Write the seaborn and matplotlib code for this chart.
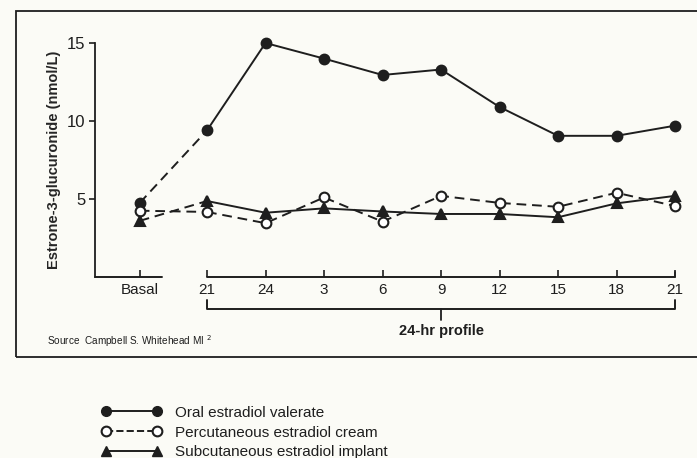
import matplotlib
matplotlib.use("Agg")
import matplotlib.pyplot as plt
import numpy as np
import pandas as pd
import seaborn as sns
from matplotlib.lines import Line2D
from matplotlib.patches import Rectangle

# data
tick_labels = ["Basal", "21", "24", "3", "6", "9", "12", "15", "18", "21"]
x_pos = [-1.15, 0, 1, 2, 3, 4, 5, 6, 7, 8]

oral = [4.75, 9.4, 15.0, 14.0, 12.95, 13.3, 10.9, 9.05, 9.05, 9.7]
cream = [4.25, 4.17, 3.45, 5.1, 3.55, 5.2, 4.75, 4.5, 5.4, 4.55]
implant = [3.6, 4.87, 4.12, 4.4, 4.2, 4.04, 4.04, 3.83, 4.72, 5.2]

series_names = ["Oral estradiol valerate",
                "Percutaneous estradiol cream",
                "Subcutaneous estradiol implant"]

sns.set_style("white")
plt.rcParams['font.family'] = ['Liberation Sans', 'DejaVu Sans']

INK = "#1e1e1e"
BG = "#fbfbf6"

fig = plt.figure(figsize=(6.97, 4.58), dpi=100, facecolor=BG)
ax = fig.add_axes([95 / 697, 1 - 277 / 458, 580 / 697, 234 / 458])
ax.set_facecolor(BG)

styles = {
    series_names[0]: dict(marker="o", mfc=INK, ls="-"),
    series_names[1]: dict(marker="o", mfc="white", ls="--"),
    series_names[2]: dict(marker="^", mfc=INK, ls="-"),
}

for name, vals in zip(series_names, [oral, cream, implant]):
    st = styles[name]
    # basal -> first profile point, always dashed
    ax.plot(x_pos[:2], vals[:2], color=INK, lw=1.4, ls="--", dashes=(5, 3),
            clip_on=False, zorder=2)
    df = pd.DataFrame({"x": x_pos[1:], "y": vals[1:]})
    sns.lineplot(data=df, x="x", y="y", ax=ax, color=INK, lw=1.4,
                 linestyle=st["ls"], legend=False, zorder=2)
    if st["ls"] == "--":
        ax.lines[-1].set_dashes((5, 3))
    ax.plot(x_pos, vals, ls="none", marker=st["marker"], ms=7,
            mfc=st["mfc"], mec=INK, mew=1.5, clip_on=False, zorder=3)

ax.set_xlim(-1.915, 8)
ax.set_ylim(0, 15)
ax.set_yticks([5, 10, 15])
ax.set_xticks(x_pos)
ax.set_xticklabels(tick_labels)
ax.set_xlabel("")
ax.set_ylabel("Estrone-3-glucuronide (nmol/L)", fontsize=10.5,
              fontweight="bold", labelpad=4)

for s in ["top", "right", "bottom"]:
    ax.spines[s].set_visible(False)
ax.spines["left"].set_color(INK)
ax.spines["left"].set_linewidth(1.3)
ax.tick_params(axis="y", direction="out", length=4, width=1.2, color=INK,
               labelsize=12, pad=3, left=True, labelcolor=INK)
ax.tick_params(axis="x", direction="in", length=5, width=1.2, color=INK,
               labelsize=11, pad=4, bottom=True, labelcolor=INK)

# broken x axis: basal piece and the 24-hr piece
ax.plot([-1.915, -0.77], [0, 0], color=INK, lw=1.4, clip_on=False)
ax.plot([0, 8], [0, 0], color=INK, lw=1.4, clip_on=False)
ax.plot([8, 8], [0, 0.3], color=INK, lw=1.2, clip_on=False)

# bracket under the profile
ax.plot([0, 0, 8, 8], [-1.45, -2.05, -2.05, -1.45], color=INK, lw=1.4,
        clip_on=False)
ax.plot([4, 4], [-2.05, -2.75], color=INK, lw=1.3, clip_on=False)
ax.text(4, -3.0, "24-hr profile", ha="center", va="top", fontsize=10.5,
        fontweight="bold", color=INK)

fig.text(47 / 697, 1 - 341 / 458, "Source  Campbell S. Whitehead MI $^2$",
         fontsize=7.2, color=INK, va="center")

# frame around the chart
fig.patches.append(Rectangle((16 / 697, 1 - 357 / 458), 1.0, 346 / 458,
                             transform=fig.transFigure, fill=False,
                             ec=INK, lw=1.3))

handles = [
    Line2D([], [], color=INK, lw=1.4, ls="-", marker="o", ms=7,
           mfc=INK, mec=INK),
    Line2D([], [], color=INK, lw=1.4, ls="--", marker="o", ms=7,
           mfc="white", mec=INK, mew=1.5),
    Line2D([], [], color=INK, lw=1.4, ls="-", marker="^", ms=7,
           mfc=INK, mec=INK),
]
leg = fig.legend(handles, series_names, loc="upper left",
                 bbox_to_anchor=(88 / 697, 1 - 392 / 458), frameon=False,
                 numpoints=2, handlelength=3.9, handletextpad=0.9,
                 labelspacing=0.38, fontsize=11)
for t in leg.get_texts():
    t.set_color(INK)

fig.savefig("out.png", dpi=100, facecolor=BG)
